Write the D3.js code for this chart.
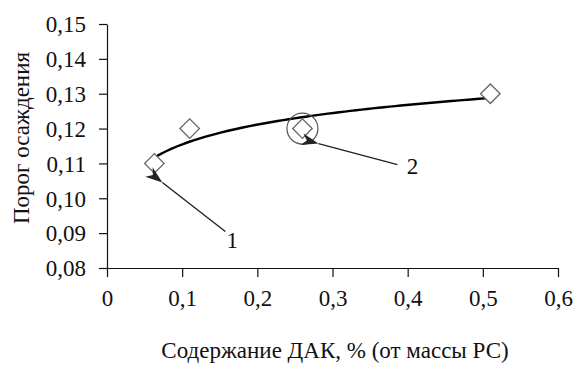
<!DOCTYPE html>
<html>
<head>
<meta charset="utf-8">
<script src="https://cdn.jsdelivr.net/npm/d3@7"></script>
</head>
<body style="margin:0;background:#fff">
<svg id="chart" width="577" height="365"></svg>
<script>
// data
var dakContent = [0.063, 0.11, 0.26, 0.51];
var threshold = [0.11, 0.12, 0.12, 0.13];
var xTicks = [0, 0.1, 0.2, 0.3, 0.4, 0.5, 0.6];
var yTicks = [0.08, 0.09, 0.10, 0.11, 0.12, 0.13, 0.14, 0.15];
var xTitle = "Содержание ДАК, % (от массы РС)";
var yTitle = "Порог осаждения";
var circledIndex = 2;
var callouts = [
    {label: "1", index: 0},
    {label: "2", index: 2}
];

// serif drops to a sans fallback at larger sizes here, keep it small enough
var FONT = "Liberation Serif";
var FS = 23;
var fmt = function (d) { return d3.format(".1f")(d).replace(".", ","); };
var fmtY = function (d) { return d3.format(".2f")(d).replace(".", ","); };

var xScale = d3.scaleLinear().domain([0, 0.6]).range([107, 558]);
var yScale = d3.scaleLinear().domain([0.08, 0.15]).range([268, 24]);

var svg = d3.select("#chart");

// axes
var xAxis = svg.append("g")
    .attr("transform", "translate(0,268)")
    .call(d3.axisBottom(xScale).tickValues(xTicks).tickSize(9).tickSizeOuter(0).tickPadding(13)
        .tickFormat(function (d) { return d === 0 ? "0" : fmt(d); }));
var yAxis = svg.append("g")
    .attr("transform", "translate(107,0)")
    .call(d3.axisLeft(yScale).tickValues(yTicks).tickSize(8).tickSizeOuter(0).tickPadding(13)
        .tickFormat(fmtY));

svg.selectAll("g").attr("font-family", FONT).attr("font-size", FS);
svg.selectAll(".tick text").attr("fill", "#111");
svg.selectAll(".domain, .tick line").attr("stroke", "#111").attr("stroke-width", 1.2);
yAxis.selectAll(".tick text").attr("dy", "0.34em");

// axis titles
svg.append("text")
    .attr("x", 335)
    .attr("y", 358)
    .attr("text-anchor", "middle")
    .attr("font-family", FONT)
    .attr("font-size", FS)
    .attr("fill", "#111")
    .text(xTitle);

svg.append("text")
    .attr("transform", "translate(29,138) rotate(-90)")
    .attr("text-anchor", "middle")
    .attr("font-family", FONT)
    .attr("font-size", FS)
    .attr("fill", "#111")
    .text(yTitle);

// logarithmic trendline, least squares on the data
var lx = dakContent.map(Math.log);
var mx = d3.mean(lx), my = d3.mean(threshold);
var sxy = d3.sum(lx, function (v, i) { return (v - mx) * (threshold[i] - my); });
var sxx = d3.sum(lx, function (v) { return (v - mx) * (v - mx); });
var b = sxy / sxx, a = my - b * mx;
var xs = d3.range(0, 61).map(function (i) {
    var lo = d3.min(dakContent), hi = d3.max(dakContent);
    return lo + (hi - lo) * i / 60;
});
var line = d3.line()
    .x(function (d) { return xScale(d); })
    .y(function (d) { return yScale(a + b * Math.log(d)); });

svg.append("path")
    .datum(xs)
    .attr("fill", "none")
    .attr("stroke", "#000")
    .attr("stroke-width", 2.4)
    .attr("d", line);

// markers
svg.selectAll(".pt")
    .data(dakContent)
    .enter()
    .append("path")
    .attr("class", "pt")
    .attr("d", d3.symbol(d3.symbolSquare, 190))
    .attr("transform", function (d, i) {
        return "translate(" + xScale(d) + "," + yScale(threshold[i]) + ") rotate(45)";
    })
    .attr("fill", "#fff")
    .attr("stroke", "#666")
    .attr("stroke-width", 1.3);

svg.append("circle")
    .attr("cx", xScale(dakContent[circledIndex]))
    .attr("cy", yScale(threshold[circledIndex]))
    .attr("r", 15.5)
    .attr("fill", "none")
    .attr("stroke", "#555")
    .attr("stroke-width", 1.2);

// arrows
svg.append("defs").append("marker")
    .attr("id", "head")
    .attr("viewBox", "0 -7 18 14")
    .attr("refX", 0)
    .attr("refY", 0)
    .attr("markerWidth", 18)
    .attr("markerHeight", 14)
    .attr("markerUnits", "userSpaceOnUse")
    .attr("orient", "auto-start-reverse")
    .append("path")
    .attr("d", "M0,0 L17,-6 L12,0 L17,6 Z")
    .attr("fill", "#222");

// arrow tips/tails in pixel offsets from the pointed-at marker
var arrowGeom = [
    {tip: [8, 19], tail: [71, 68], text: [78, 85]},
    {tip: [16, 15], tail: [95, 36], text: [110, 45]}
];
callouts.forEach(function (c, k) {
    var px = xScale(dakContent[c.index]), py = yScale(threshold[c.index]);
    var g = arrowGeom[k];
    svg.append("line")
        .attr("x1", px + g.tip[0]).attr("y1", py + g.tip[1])
        .attr("x2", px + g.tail[0]).attr("y2", py + g.tail[1])
        .attr("stroke", "#222")
        .attr("stroke-width", 1.4)
        .attr("marker-start", "url(#head)");
    svg.append("text")
        .attr("x", px + g.text[0])
        .attr("y", py + g.text[1])
        .attr("text-anchor", "middle")
        .attr("font-family", FONT)
        .attr("font-size", FS)
        .attr("fill", "#111")
        .text(c.label);
});
</script>
</body>
</html>
